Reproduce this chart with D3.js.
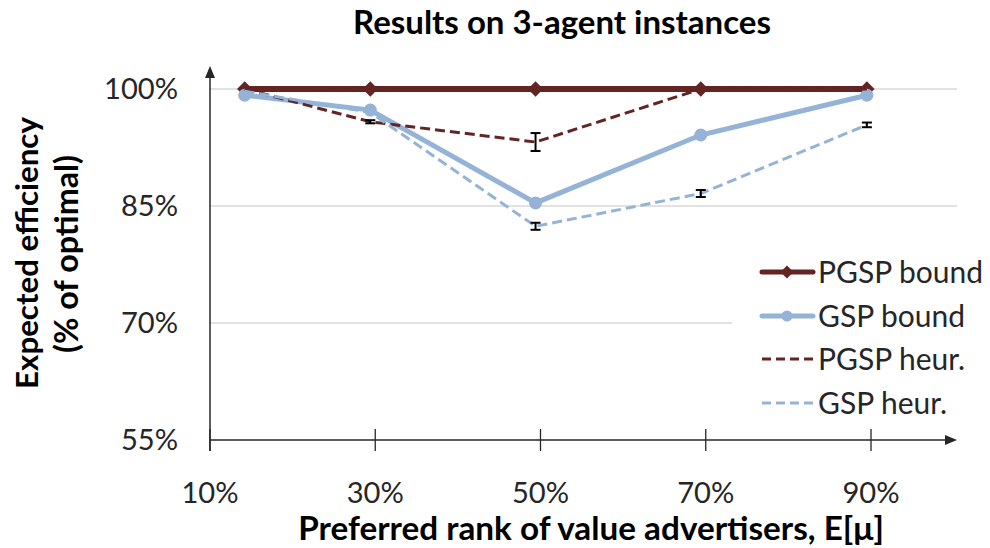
<!DOCTYPE html>
<html><head><meta charset="utf-8">
<script src="https://cdn.jsdelivr.net/npm/d3@7"></script>
<style>body{margin:0;background:#fff}svg{display:block}text{font-family:Lato,"Open Sans",sans-serif}</style>
</head><body><svg id="c" width="990" height="548"></svg>
<script>
// ---- data ----
const title = "Results on 3-agent instances";
const xLabel = "Preferred rank of value advertisers, E[\u03bc]";
const yLabel1 = "Expected efficiency";
const yLabel2 = "(% of optimal)";
const xTicks = [10, 30, 50, 70, 90];
const yTicks = [55, 70, 85, 100];
const xValues = [14.2, 29.4, 49.4, 69.4, 89.5];
const seriesNames = ["PGSP bound", "GSP bound", "PGSP heur.", "GSP heur."];
const pgspBound = [100, 100, 100, 100, 100];
const gspBound = [99.2, 97.3, 85.4, 94.1, 99.2];
const pgspHeur = [100, 95.8, 93.2, 100, 100];
const gspHeur = [99.7, 97.0, 82.4, 86.6, 95.4];
const pgspHeurErr = [0, 0.2, 1.15, 0, 0];
const gspHeurErr = [0, 0, 0.45, 0.45, 0.3];

const dark = "#632523", light = "#95B3D7";
const svg = d3.select("#c");
const x = d3.scaleLinear().domain([10, 90]).range([210, 871]);
const y = d3.scaleLinear().domain([55, 100]).range([440, 89]);
const xEnd = 957, yTop = 66;

function fit(sel, w) { const n = sel.node(); const fs = parseFloat(sel.attr("font-size")); const nf = fs * w / n.getComputedTextLength(); sel.attr("font-size", nf); return nf; }

// gridlines
svg.append("g").selectAll("line").data(yTicks.filter(d => d > 55)).join("line")
  .attr("x1", x(10)).attr("x2", xEnd).attr("y1", d => y(d)).attr("y2", d => y(d))
  .attr("stroke", "#d9d9d9").attr("stroke-width", 1.3);

// legend background
svg.append("rect").attr("x", 732).attr("y", 250).attr("width", 255).attr("height", 176).attr("fill", "#fff");

const line = d3.line().x((d, i) => x(xValues[i])).y(d => y(d));
const g = svg.append("g");
// PGSP bound
g.append("path").attr("d", line(pgspBound)).attr("fill", "none").attr("stroke", dark).attr("stroke-width", 6);
g.selectAll(".dm").data(pgspBound).join("path")
  .attr("d", d3.symbol(d3.symbolDiamond2, 150)).attr("transform", (d, i) => `translate(${x(xValues[i])},${y(d)})`).attr("fill", dark);
// GSP bound
g.append("path").attr("d", line(gspBound)).attr("fill", "none").attr("stroke", light).attr("stroke-width", 5);
g.selectAll(".ci").data(gspBound).join("circle").attr("cx", (d, i) => x(xValues[i])).attr("cy", d => y(d)).attr("r", 6.5).attr("fill", light);
// heuristics
g.append("path").attr("d", line(pgspHeur)).attr("fill", "none").attr("stroke", dark).attr("stroke-width", 3).attr("stroke-dasharray", "10,5");
g.append("path").attr("d", line(gspHeur)).attr("fill", "none").attr("stroke", light).attr("stroke-width", 3).attr("stroke-dasharray", "10,5");

// error bars
function errBars(vals, errs) {
  vals.forEach((v, i) => {
    const e = errs[i]; if (!e) return;
    const cx = x(xValues[i]), y1 = y(v + e), y2 = y(v - e);
    g.append("line").attr("x1", cx).attr("x2", cx).attr("y1", y1).attr("y2", y2).attr("stroke", "#000").attr("stroke-width", 2);
    [y1, y2].forEach(yy => g.append("line").attr("x1", cx - 5).attr("x2", cx + 5).attr("y1", yy).attr("y2", yy).attr("stroke", "#000").attr("stroke-width", 2));
  });
}
errBars(pgspHeur, pgspHeurErr);
errBars(gspHeur, gspHeurErr);

// axes
const axCol = "#262626";
svg.append("line").attr("x1", x(10)).attr("x2", xEnd - 8).attr("y1", y(55)).attr("y2", y(55)).attr("stroke", axCol).attr("stroke-width", 1.5);
svg.append("path").attr("d", `M${xEnd},${y(55)} L${xEnd - 12},${y(55) - 5} L${xEnd - 12},${y(55) + 5}Z`).attr("fill", axCol);
svg.append("line").attr("x1", x(10)).attr("x2", x(10)).attr("y1", y(55) + 11).attr("y2", yTop + 8).attr("stroke", axCol).attr("stroke-width", 1.5);
svg.append("path").attr("d", `M${x(10)},${yTop} L${x(10) - 5},${yTop + 12} L${x(10) + 5},${yTop + 12}Z`).attr("fill", axCol);
svg.append("g").selectAll("line").data(xTicks).join("line")
  .attr("x1", d => x(d)).attr("x2", d => x(d)).attr("y1", y(55) - 11).attr("y2", y(55) + 11).attr("stroke", axCol).attr("stroke-width", 1.3);

// tick labels (size fitted to the reference width of "100%")
const probe = svg.append("text").attr("font-size", 26).text("100%");
const tfs = fit(probe, 74);
probe.remove();
svg.append("g").selectAll("text").data(yTicks).join("text")
  .attr("x", 178).attr("y", d => y(d)).attr("dy", "0.36em").attr("text-anchor", "end")
  .attr("font-size", tfs).attr("fill", "#262626").text(d => d + "%");
svg.append("g").selectAll("text").data(xTicks).join("text")
  .attr("x", d => x(d)).attr("y", 493).attr("dy", "0.36em").attr("text-anchor", "middle")
  .attr("font-size", tfs).attr("fill", "#262626").text(d => d + "%");

// titles
const t = svg.append("text").attr("x", 562).attr("y", 34).attr("text-anchor", "middle").attr("font-weight", "bold").attr("font-size", 26).attr("fill", "#000").text(title);
fit(t, 418);
const xl = svg.append("text").attr("x", 591).attr("y", 540).attr("text-anchor", "middle").attr("font-weight", "bold").attr("font-size", 26).attr("fill", "#000").text(xLabel);
fit(xl, 586);
const yl1 = svg.append("text").attr("transform", "translate(38,253) rotate(-90)").attr("text-anchor", "middle").attr("font-weight", "bold").attr("font-size", 26).attr("fill", "#000").text(yLabel1);
fit(yl1, 272);
const yl2 = svg.append("text").attr("transform", "translate(78,254) rotate(-90)").attr("text-anchor", "middle").attr("font-weight", "bold").attr("font-size", 26).attr("fill", "#000").text(yLabel2);
fit(yl2, 198);

// legend
const legY = [272, 316, 359, 403];
const lg = svg.append("g");
const lprobe = svg.append("text").attr("font-size", 26).text(seriesNames[0]);
const lfs = fit(lprobe, 165);
lprobe.remove();
seriesNames.forEach((n, i) => {
  const yy = legY[i];
  const col = i % 2 === 0 ? dark : light;
  if (i < 2) {
    lg.append("line").attr("x1", 762).attr("x2", 813).attr("y1", yy).attr("y2", yy).attr("stroke", col).attr("stroke-width", 5).attr("stroke-linecap", "round");
    if (i === 0) lg.append("path").attr("d", d3.symbol(d3.symbolDiamond2, 110)).attr("transform", `translate(787,${yy})`).attr("fill", col);
    else lg.append("circle").attr("cx", 787).attr("cy", yy).attr("r", 5.5).attr("fill", col);
  } else {
    lg.append("line").attr("x1", 762).attr("x2", 813).attr("y1", yy).attr("y2", yy).attr("stroke", col).attr("stroke-width", 3).attr("stroke-dasharray", "9,5");
  }
  lg.append("text").attr("x", 818).attr("y", yy).attr("dy", "0.36em").attr("font-size", lfs).attr("fill", "#262626").text(n);
});
</script></body></html>
